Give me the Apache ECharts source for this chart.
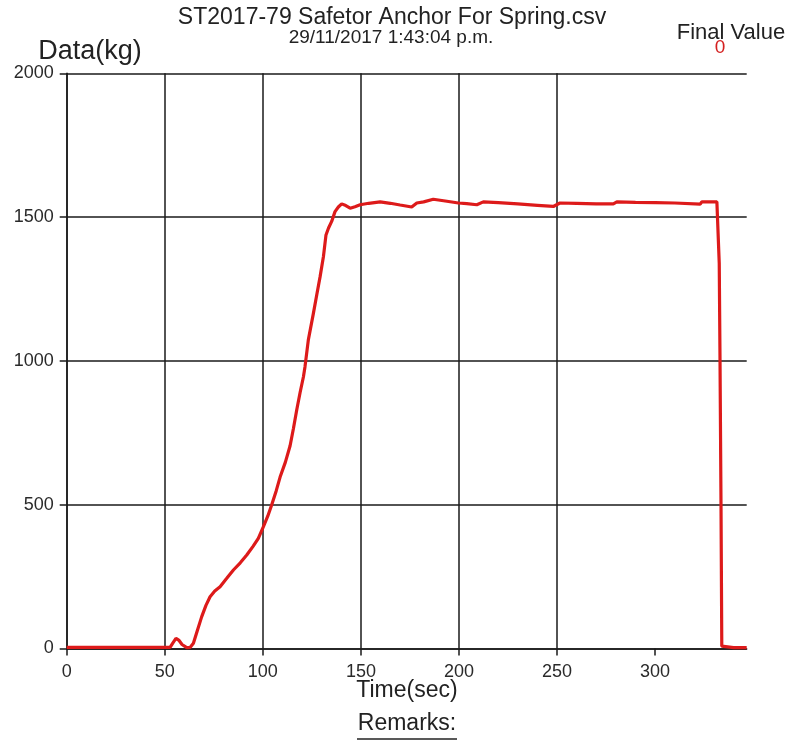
<!DOCTYPE html>
<html>
<head>
<meta charset="utf-8">
<script src="https://cdn.jsdelivr.net/npm/echarts@6/dist/echarts.min.js"></script>
<style>
html,body{margin:0;padding:0;background:#fff;}
#chart{width:791px;height:754px;}
</style>
</head>
<body>
<div id="chart"></div>
<script>
// ---- data ----
var titleText = 'ST2017-79 Safetor Anchor For Spring.csv';
var subtitleText = '29/11/2017 1:43:04 p.m.';
var yAxisName = 'Data(kg)';
var xAxisName = 'Time(sec)';
var finalValueLabel = 'Final Value';
var finalValue = '0';
var remarksText = 'Remarks:';

var xTicks = [0, 50, 100, 150, 200, 250, 300];
var yTicks = [0, 500, 1000, 1500, 2000];

var timeSec = [0, 10, 20, 30, 40, 50, 52.7, 54, 55.7, 57.3, 58.8, 61.2, 63, 64.6, 66.5, 68.8, 71, 73.1, 75.5, 78.2,
  81.5, 85, 88.5, 91.8, 95, 97.7, 100.3, 102.5, 104.5, 106.8, 108.8, 111.5, 113.9, 115.6, 117.3, 119, 120.7, 121.5,
  123.2, 125.8, 127.5, 129.2, 130.9, 132.2, 133.5, 135.1, 136.8, 138.5, 140.2, 142.3, 144.5, 147, 149.6, 154, 159.8,
  165, 170, 175.9, 178.5, 182, 186.9, 193, 199.7, 204, 209.1, 212.4, 220, 230, 240, 248.1, 251.5, 260, 270, 278.7,
  280.5, 290, 300, 310, 323, 323.8, 331.5, 332, 332.7, 333.1, 333.6, 334, 334.5, 340, 346.7];
var loadKg = [4, 4, 4, 4, 4, 4, 4, 18, 35, 28, 14, 3, 4, 18, 60, 110, 150, 180, 200, 215,
  243, 273, 298, 325, 355, 383, 424, 460, 499, 548, 596, 648, 705, 765, 830, 890, 945, 980,
  1073, 1166, 1230, 1293, 1363, 1438, 1462, 1485, 1519, 1535, 1546, 1540, 1531, 1536, 1543, 1548, 1553,
  1548, 1542, 1535, 1549, 1553, 1562, 1556, 1549, 1547, 1543, 1553, 1550, 1546, 1541, 1537, 1549, 1548, 1546, 1546,
  1553, 1551, 1550, 1549, 1545, 1553, 1553, 1549, 1340, 1000, 500, 8, 3, 3, 3];

var xMin = 0, xMax = 346.7, xStep = 50;
var yMin = 0, yMax = 2000, yStep = 500;

var seriesData = timeSec.map(function (t, i) { return [t, loadKg[i]]; });

var FONT = "'Liberation Sans', Arial, sans-serif";
var AXIS = '#1a1a1a';
var chart = echarts.init(document.getElementById('chart'), null, {renderer: 'canvas'});
chart.setOption({
  backgroundColor: '#ffffff',
  animation: false,
  grid: {left: 66.7, right: 44.3, top: 73.3, bottom: 105.5},
  xAxis: {
    type: 'value', min: xMin, max: xMax, interval: xStep,
    axisLine: {show: true, lineStyle: {color: AXIS, width: 1.5}},
    axisTick: {show: true, length: 7, customValues: xTicks, lineStyle: {color: AXIS, width: 1.5}},
    axisLabel: {color: '#2a2a2a', fontSize: 18, fontFamily: FONT, margin: 15, customValues: xTicks,
      formatter: function (v) { return String(v); }},
    splitLine: {show: true, showMaxLine: false, lineStyle: {color: AXIS, width: 1.5}}
  },
  yAxis: {
    type: 'value', min: yMin, max: yMax, interval: yStep,
    axisLine: {show: true, lineStyle: {color: AXIS, width: 1.5}},
    axisTick: {show: true, length: 7, customValues: yTicks, lineStyle: {color: AXIS, width: 1.5}},
    axisLabel: {color: '#2a2a2a', fontSize: 18, fontFamily: FONT, margin: 13, customValues: yTicks,
      formatter: function (v) { return String(v); }},
    splitLine: {show: true, lineStyle: {color: AXIS, width: 1.5}}
  },
  series: [{
    type: 'line', data: seriesData, showSymbol: false, symbol: 'none', smooth: false,
    lineStyle: {color: '#dd1a1a', width: 3.2},
    z: 5
  }],
  graphic: [
    {type: 'text', x: 392, y: 18, style: {text: titleText, font: '23px ' + FONT, fill: '#222', align: 'center', verticalAlign: 'middle'}},
    {type: 'text', x: 391, y: 38, style: {text: subtitleText, font: '19px ' + FONT, fill: '#222', align: 'center', verticalAlign: 'middle'}},
    {type: 'text', x: 90, y: 52, style: {text: yAxisName, font: '27px ' + FONT, fill: '#222', align: 'center', verticalAlign: 'middle'}},
    {type: 'text', x: 731, y: 33, style: {text: finalValueLabel, font: '22px ' + FONT, fill: '#222', align: 'center', verticalAlign: 'middle'}},
    {type: 'text', x: 720, y: 48, style: {text: finalValue, font: '19px ' + FONT, fill: '#d42020', align: 'center', verticalAlign: 'middle'}},
    {type: 'text', x: 407, y: 691, style: {text: xAxisName, font: '23px ' + FONT, fill: '#222', align: 'center', verticalAlign: 'middle'}},
    {type: 'text', x: 407, y: 724, style: {text: remarksText, font: '23px ' + FONT, fill: '#222', align: 'center', verticalAlign: 'middle'}},
    {type: 'line', shape: {x1: 357, y1: 739, x2: 457, y2: 739}, style: {stroke: '#222', lineWidth: 1.5}}
  ]
});
</script>
</body>
</html>
